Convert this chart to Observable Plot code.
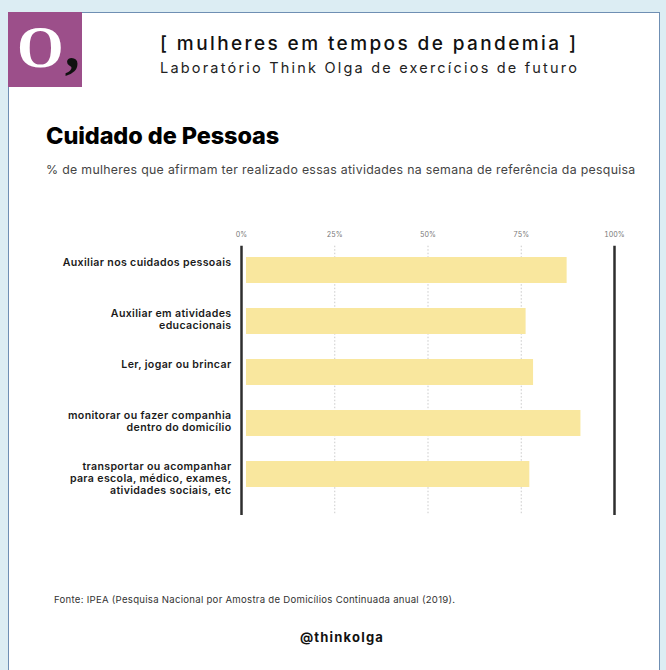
<!DOCTYPE html>
<html>
<head>
<meta charset="utf-8">
<script src="https://cdn.jsdelivr.net/npm/d3@7"></script>
<script src="https://cdn.jsdelivr.net/npm/@observablehq/plot@0.6"></script>
<style>
  html, body { margin: 0; padding: 0; }
  body { width: 666px; height: 670px; background: #dcedf3; position: relative; overflow: hidden; font-family: Inter, "Noto Sans", sans-serif; }
  #panel { position: absolute; left: 8px; top: 12px; width: 650px; height: 700px; background: #fff; border-left: 1.5px solid #6f8fb3; border-top: 1.5px solid #6f8fb3; border-right: 1.5px solid #6f8fb3; }
  #logo { position: absolute; left: 8px; top: 12px; width: 74px; height: 75px; background: #9c4f8a; overflow: hidden; }
  #logo .o { position: absolute; left: 9px; top: 5px; font-family: "Liberation Serif", "DejaVu Serif", serif; font-weight: bold; font-size: 60px; color: #fff; line-height: 1; white-space: nowrap; }
  #logo .o span { color: #111; margin-left: 1px; }
  .h1 { position: absolute; left: 160px; top: 32px; font-size: 19px; font-weight: 500; letter-spacing: 2.4px; color: #111; white-space: nowrap; }
  .h2 { position: absolute; left: 160px; top: 59px; font-size: 14.5px; font-weight: 400; letter-spacing: 2.2px; color: #222; white-space: nowrap; }
  .title { position: absolute; left: 46px; top: 121px; font-size: 23.5px; font-weight: 800; color: #000; white-space: nowrap; letter-spacing: -0.1px; }
  .sub { position: absolute; left: 46px; top: 162px; font-size: 12.3px; color: #444; white-space: nowrap; letter-spacing: 0.32px; }
  .src { position: absolute; left: 54px; top: 594px; font-size: 9.6px; color: #333; white-space: nowrap; letter-spacing: 0.27px; }
  .handle { position: absolute; left: 0; width: 684px; text-align: center; top: 629px; font-size: 13px; font-weight: 700; letter-spacing: 1.2px; color: #111; }
  #chart { position: absolute; left: 0; top: 200px; }
  #chart .ylab text { letter-spacing: 0.35px; }
</style>
</head>
<body>
<div id="panel"></div>
<div id="logo"><span class="o">O<span>,</span></span></div>
<div class="h1">[ mulheres em tempos de pandemia ]</div>
<div class="h2">Laboratório Think Olga de exercícios de futuro</div>
<div class="title">Cuidado de Pessoas</div>
<div class="sub">% de mulheres que afirmam ter realizado essas atividades na semana de referência da pesquisa</div>
<div id="chart"></div>
<div class="src">Fonte: IPEA (Pesquisa Nacional por Amostra de Domicílios Continuada anual (2019).</div>
<div class="handle">@thinkolga</div>
<script>
const categories = [
  "Auxiliar nos cuidados pessoais",
  "Auxiliar em atividades\neducacionais",
  "Ler, jogar ou brincar",
  "monitorar ou fazer companhia\ndentro do domicílio",
  "transportar ou acompanhar\npara escola, médico, exames,\natividades sociais, etc"
];
const values = [87.3, 76.3, 78.3, 91.0, 77.3];
const tickValues = [0, 25, 50, 75, 100];
const gridValues = [25, 50, 75];
const frameValues = [0, 100];

const data = categories.map((c, i) => ({cat: c, value: values[i]}));

const plot = Plot.plot({
  width: 666,
  height: 330,
  marginLeft: 241,
  marginRight: 52,
  marginTop: 45.7,
  marginBottom: 15,
  style: {fontFamily: "Inter, 'Noto Sans', sans-serif", background: "transparent", overflow: "visible"},
  x: {domain: [0, 100]},
  y: {domain: categories, paddingInner: 0.5, paddingOuter: 0.354, align: 0.28, axis: null},
  marks: [
    Plot.ruleX(gridValues, {stroke: "#bdbdbd", strokeWidth: 0.8, strokeDasharray: "1.5,2"}),
    Plot.barX(data, {x: "value", y: "cat", fill: "#f9e79e", insetLeft: 5}),
    Plot.ruleX(frameValues, {stroke: "#2e2e2e", strokeWidth: 2.5}),
    Plot.axisX({anchor: "top", ticks: tickValues, tickSize: 0, tickPadding: 9, tickFormat: d => d + "%", fontSize: 7, color: "#777", label: null}),
    Plot.text(data, {y: "cat", text: "cat", frameAnchor: "left", textAnchor: "end", lineAnchor: "top", dx: -10, dy: -12.8, fontSize: 10.6, fontWeight: 600, fill: "#1a1a1a", lineHeight: 1.12, className: "ylab"})
  ]
});
document.getElementById("chart").appendChild(plot);
</script>
</body>
</html>
